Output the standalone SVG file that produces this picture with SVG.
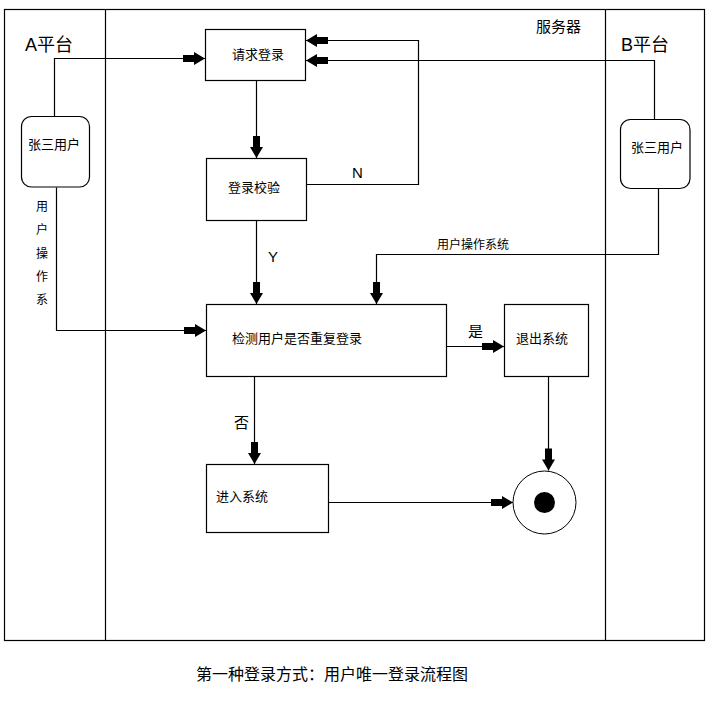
<svg xmlns="http://www.w3.org/2000/svg" width="710" height="704" viewBox="0 0 710 704">
<style>
.frame{fill:none;stroke:#000;stroke-width:1.2}
.box{fill:#fff;stroke:#000;stroke-width:1.2}
.ln{fill:none;stroke:#000;stroke-width:1.2}
.arr{marker-end:url(#ah)}
text{font-family:"Liberation Sans","Noto Sans CJK SC",sans-serif;fill:#000}
.t13{font-size:13px}
.t12{font-size:12px}
</style>
<defs>
<marker id="ah" markerUnits="userSpaceOnUse" viewBox="-24 -8 25 16" refX="0" refY="0" markerWidth="25" markerHeight="16" orient="auto">
<path d="M-22,-3.5 H-11 V-6.5 L0,0 L-11,6.5 V3.5 H-22 Z" fill="#000"/>
</marker>
</defs>
<rect width="710" height="704" fill="#fff"/>
<g id="lanes">
<rect class="frame" x="4.5" y="9.5" width="700" height="631"/>
<line class="frame" x1="105.5" y1="9.5" x2="105.5" y2="640.5"/>
<line class="frame" x1="605.5" y1="9.5" x2="605.5" y2="640.5"/>
<text x="25" y="51" style="font-size:18px">A平台</text>
<text x="621" y="51" style="font-size:18px">B平台</text>
<text x="536" y="32" style="font-size:15px">服务器</text>
</g>
<g id="connectors">
<polyline class="ln arr" points="54.5,116.5 54.5,58.5 205,58.5"/>
<line class="ln arr" x1="256.5" y1="80.5" x2="256.5" y2="158"/>
<polyline class="ln arr" points="306,184.5 418.5,184.5 418.5,40.5 306,40.5"/>
<polyline class="ln arr" points="654.5,119 654.5,60.5 306,60.5"/>
<line class="ln arr" x1="256.5" y1="220.5" x2="256.5" y2="304"/>
<polyline class="ln arr" points="56.5,187.5 56.5,330.5 206,330.5"/>
<polyline class="ln arr" points="658.5,188.5 658.5,254.5 376.5,254.5 376.5,304"/>
<line class="ln arr" x1="446.5" y1="346.5" x2="504" y2="346.5"/>
<line class="ln arr" x1="548.5" y1="376.5" x2="548.5" y2="470.5"/>
<line class="ln arr" x1="254.5" y1="376.5" x2="254.5" y2="464"/>
<line class="ln arr" x1="328.5" y1="502.5" x2="513" y2="502.5"/>
<text x="352" y="178" style="font-size:15px">N</text>
<text x="268" y="262" style="font-size:15px">Y</text>
<text x="468" y="337" style="font-size:15px">是</text>
<text x="234" y="428" style="font-size:15px">否</text>
<text class="t12" x="437" y="249">用户操作系统</text>
<text class="t12" x="36" y="211">用</text>
<text class="t12" x="36" y="234">户</text>
<text class="t12" x="36" y="258">操</text>
<text class="t12" x="36" y="281">作</text>
<text class="t12" x="36" y="304">系</text>
</g>
<g id="userA">
<rect class="box" x="21.5" y="116.5" width="68" height="70.5" rx="10"/>
<text class="t13" x="28" y="149">张三用户</text>
</g>
<g id="userB">
<rect class="box" x="620.5" y="119.5" width="69.5" height="69" rx="10"/>
<text class="t13" x="631" y="152">张三用户</text>
</g>
<g id="reqLogin">
<rect class="box" x="205.5" y="29.5" width="100" height="51"/>
<text class="t13" x="232" y="59">请求登录</text>
</g>
<g id="verify">
<rect class="box" x="206.5" y="158.5" width="100" height="62"/>
<text class="t13" x="228" y="192">登录校验</text>
</g>
<g id="checkDup">
<rect class="box" x="206.5" y="304.5" width="240" height="72"/>
<text class="t13" x="232" y="343">检测用户是否重复登录</text>
</g>
<g id="logout">
<rect class="box" x="504.5" y="304.5" width="84" height="72"/>
<text class="t13" x="516" y="343">退出系统</text>
</g>
<g id="enter">
<rect class="box" x="206.5" y="464.5" width="122" height="68"/>
<text class="t13" x="216" y="501">进入系统</text>
</g>
<g id="end">
<circle cx="544.5" cy="502.5" r="31.5" fill="#fff" stroke="#000" stroke-width="1"/>
<circle cx="544.5" cy="502.5" r="10.5" fill="#000"/>
</g>
<g id="caption">
<text x="196" y="680" style="font-size:16px">第一种登录方式：用户唯一登录流程图</text>
</g>
</svg>
